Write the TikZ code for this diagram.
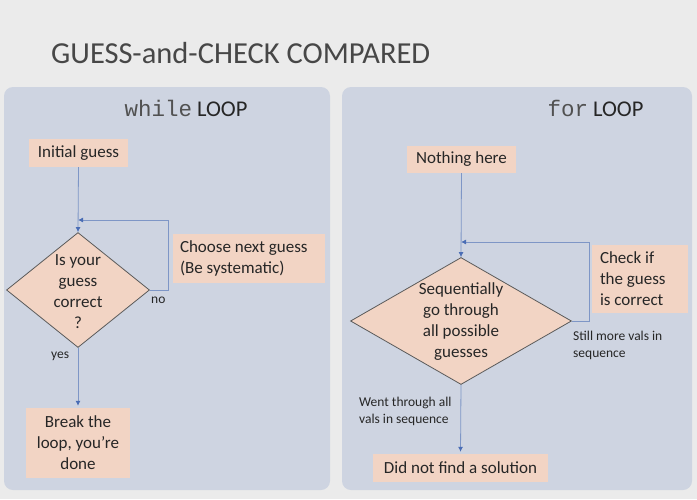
\documentclass[tikz,border=0pt]{standalone}
\usepackage{fontspec}
\setmainfont{Carlito}
\setmonofont{Liberation Mono}
\usetikzlibrary{shapes.geometric,arrows.meta}

\definecolor{pagebg}{HTML}{EBEBEB}
\definecolor{panelbg}{HTML}{CED4E1}
\definecolor{peach}{HTML}{F2D4C4}
\definecolor{ink}{HTML}{262626}
\definecolor{flow}{HTML}{7E96C6}
\definecolor{tipcol}{HTML}{4A6DB5}
\definecolor{edge}{HTML}{5A5A5A}

\tikzset{
  panel/.style={fill=panelbg, draw=none, rounded corners=9pt},
  box/.style={fill=peach, draw=none, text=ink, inner sep=0pt, align=center,
    font=\fontsize{17}{21}\selectfont},
  leftbox/.style={box, align=flush left},
  decision/.style={diamond, fill=peach, draw=edge, line width=0.8pt, inner sep=0pt},
  decisiontext/.style={text=ink, inner sep=0pt, align=center,
    font=\fontsize{17}{21}\selectfont},
  flowline/.style={draw=flow, line width=0.8pt},
  flowarrow/.style={flowline, -{Latex[length=5pt,width=5pt,color=tipcol]}},
  note/.style={text=ink, inner sep=0pt, align=left, font=\fontsize{13.5}{17}\selectfont},
  header/.style={text=ink, inner sep=0pt, font=\fontsize{22.5}{27}\selectfont},
}

\begin{document}
\begin{tikzpicture}[x=1pt, y=-1pt]
  % page and bounding box
  \fill[pagebg] (0,0) rectangle (697,499);
  \useasboundingbox (0,0) rectangle (697,499);

  % title
  \node[anchor=west, inner sep=0pt, text=ink!85, font=\fontsize{30.5}{36}\selectfont]
    (title) at (51,53) {GUESS-and-CHECK COMPARED};

  % the two panels
  \fill[panel] (4,87) rectangle (330,490);
  \fill[panel] (342,87) rectangle (692,490);

  % ---------------- while loop ----------------
  \node[header] (whilehead) at (186,108) {\textcolor{ink!80}{\texttt{while}} LOOP};

  \node[box, minimum width=99pt, minimum height=28pt] (init) at (78.5,153) {Initial guess};
  \node[decision, minimum width=143pt, minimum height=115pt] (dwhile) at (78,290) {};
  \node[decisiontext] (dwhiletext) at (78,291.5) {Is your\\guess\\correct\\?};
  \node[leftbox, minimum width=152pt, minimum height=49pt, text width=138pt]
    (next) at (249,258.5) {Choose next guess\\(Be systematic)};
  \node[box, minimum width=104pt, minimum height=70pt] (brk) at (78,443)
    {Break the\\loop, you’re\\done};

  \coordinate (jwhile) at (78,220);
  \draw[flowarrow] (init.south) -- (dwhile.north);
  \draw[flowarrow] (dwhile.east) -- ++(18,0) |- (jwhile);
  \draw[flowarrow, shorten >=2pt] (dwhile.south) -- (brk.north);

  \node[note, anchor=west] (no) at (151,300) {no};
  \node[note, anchor=west] (yes) at (51,356) {yes};

  % ---------------- for loop ----------------
  \node[header] (forhead) at (595.5,108) {\textcolor{ink!80}{\texttt{for}} LOOP};

  \node[box, minimum width=109pt, minimum height=27pt] (nothing) at (461.5,159.5) {Nothing here};
  \node[decision, minimum width=221pt, minimum height=127pt] (dfor) at (461,321) {};
  \node[decisiontext] (dfortext) at (461,322) {Sequentially\\go through\\all possible\\guesses};
  \node[leftbox, minimum width=96pt, minimum height=68pt, text width=80pt]
    (check) at (640,279) {Check if\\the guess\\is correct};
  \node[box, minimum width=175pt, minimum height=28pt] (nosol) at (460.5,468)
    {Did not find a solution};

  \coordinate (jfor) at (461,242);
  \draw[flowarrow] (nothing.south) -- (dfor.north);
  \draw[flowarrow] (dfor.east) -- ++(17,0) |- (jfor);
  \draw[flowarrow, shorten >=2pt] (dfor.south) -- (nosol.north);

  \node[note, anchor=west] (more) at (573,345.5) {Still more vals in\\sequence};
  \node[note, anchor=west] (went) at (359,411) {Went through all\\vals in sequence};
\end{tikzpicture}
\end{document}
